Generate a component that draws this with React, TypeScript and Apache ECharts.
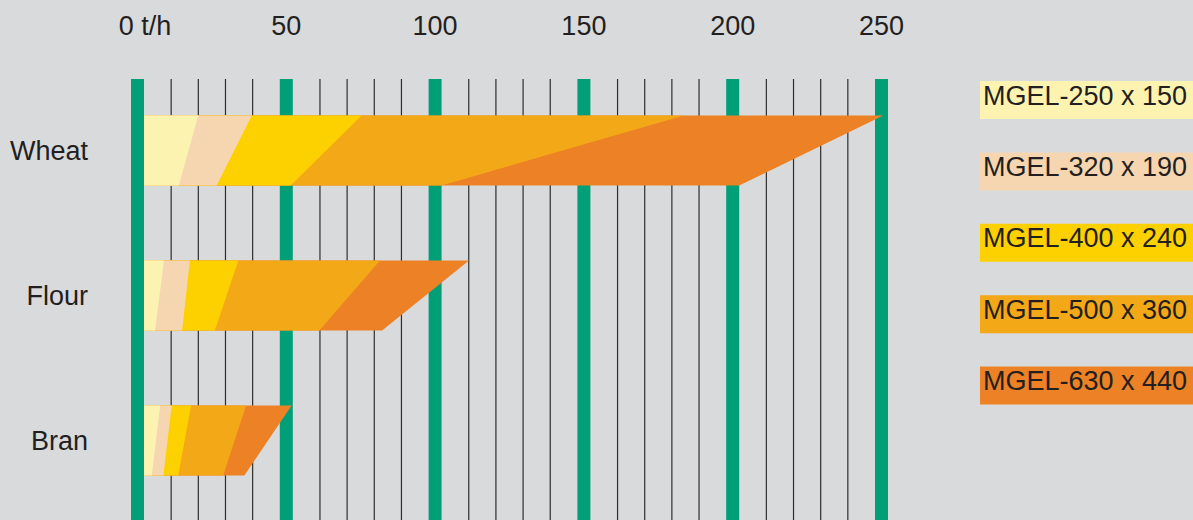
import React, { useEffect, useRef } from 'react';
import * as echarts from 'echarts';

// Categories (rows) and machines (legend)
const categories = ['Wheat', 'Flour', 'Bran'];
const machines = ['MGEL-250 x 150', 'MGEL-320 x 190', 'MGEL-400 x 240', 'MGEL-500 x 360', 'MGEL-630 x 440'];
const machineColors = ['#fdf3b1', '#f6d6b1', '#fdd000', '#f3a817', '#ec8125'];

// Capacity ranges in t/h per category (Wheat, Flour, Bran): min = lower edge, max = upper edge
const mgel250Min = [13.9, 5.9, 4.8];
const mgel250Max = [20.4, 8.9, 7.6];
const mgel320Min = [26.6, 15.0, 8.7];
const mgel320Max = [38.4, 17.6, 11.5];
const mgel400Min = [51.5, 26.0, 13.7];
const mgel400Max = [75.3, 33.9, 18.0];
const mgel500Min = [102.2, 61.1, 28.8];
const mgel500Max = [183.6, 81.5, 36.5];
const mgel630Min = [202.2, 82.2, 35.9];
const mgel630Max = [250.6, 111.4, 51.8];

// Axis ticks
const xTicks = [0, 50, 100, 150, 200, 250];
const firstTickLabel = '0 t/h';

const FONT = '"Liberation Sans", Arial, Helvetica, sans-serif';
const TEXT = '#231f20';
const BG = '#d9dadc';
const GREEN = '#009f77';
const GREEN_W = 13;
const MINOR_DIVISIONS = 5;
const BAND_RATIO = 70 / 145;

export default function App() {
  const ref = useRef<HTMLDivElement>(null);

  useEffect(() => {
    document.body.style.margin = '0';
    document.body.style.background = BG;
    const chart = echarts.init(ref.current!, null, { renderer: 'svg' });

    const ranges = [
      [mgel250Min, mgel250Max],
      [mgel320Min, mgel320Max],
      [mgel400Min, mgel400Max],
      [mgel500Min, mgel500Max],
      [mgel630Min, mgel630Max],
    ];

    const capacitySeries = machines.map((name, i) => ({
      type: 'custom',
      name,
      z: 10 + (machines.length - i),
      encode: { x: [1, 2], y: 0 },
      data: categories.map((c, k) => [c, ranges[i][0][k], ranges[i][1][k]]),
      renderItem: (params: any, api: any) => {
        const cat = api.value(0);
        const lo = api.value(1);
        const hi = api.value(2);
        const origin = api.coord([0, cat]);
        const left = origin[0] + GREEN_W / 2;
        const cy = origin[1];
        const h = api.size([0, 1])[1] * BAND_RATIO;
        const top = cy - h / 2;
        const bottom = cy + h / 2;
        const xTop = api.coord([hi, cat])[0];
        const xBot = api.coord([lo, cat])[0];
        return {
          type: 'polygon',
          shape: { points: [[left, top], [xTop, top], [xBot, bottom], [left, bottom]] },
          style: { fill: machineColors[i] },
        };
      },
    }));

    const gridSeries = {
      type: 'custom',
      name: 'grid',
      z: 1,
      silent: true,
      encode: { x: 0, y: 1 },
      data: [[0, categories[0]]],
      renderItem: (params: any, api: any) => {
        const children: any[] = [];
        const top = params.coordSys.y + 1;
        const bottom = top + params.coordSys.height + 40;
        xTicks.forEach((v, k) => {
          const x = api.coord([v, 0])[0];
          if (k < xTicks.length - 1) {
            const x2 = api.coord([xTicks[k + 1], 0])[0];
            const a = x + GREEN_W / 2;
            const b = x2 - GREEN_W / 2;
            for (let j = 1; j < MINOR_DIVISIONS; j++) {
              const xm = a + ((b - a) * j) / MINOR_DIVISIONS;
              children.push({
                type: 'line',
                shape: { x1: xm, y1: top, x2: xm, y2: bottom },
                style: { stroke: '#2e2e2e', lineWidth: 1.2 },
              });
            }
          }
          children.push({
            type: 'rect',
            shape: { x: x - GREEN_W / 2, y: top, width: GREEN_W, height: bottom - top },
            style: { fill: GREEN },
          });
        });
        return { type: 'group', children };
      },
    };

    const legendGraphics: any[] = [];
    machines.forEach((m, i) => {
      const y = 81 + i * 71.4;
      legendGraphics.push({
        type: 'rect',
        x: 980,
        y,
        shape: { x: 0, y: 0, width: 240, height: 38 },
        style: { fill: machineColors[i] },
      });
      legendGraphics.push({
        type: 'text',
        x: 983,
        y: y + 14.5,
        style: {
          text: m,
          fontSize: 27,
          fontFamily: FONT,
          fill: TEXT,
          verticalAlign: 'middle',
          align: 'left',
        },
      });
    });

    chart.setOption({
      animation: false,
      backgroundColor: BG,
      grid: { left: 137.5, top: 78, width: 744, height: 435, containLabel: false },
      xAxis: {
        type: 'value',
        position: 'top',
        min: 0,
        max: 250,
        interval: 50,
        axisLine: { show: false },
        axisTick: { show: false },
        splitLine: { show: false },
        axisLabel: {
          fontSize: 27,
          fontFamily: FONT,
          color: TEXT,
          margin: 39,
          formatter: (v: number) => (v === xTicks[0] ? '{z|' + firstTickLabel + '}' : String(v)),
          rich: {
            z: { fontSize: 27, fontFamily: FONT, color: TEXT, padding: [0, 0, 0, 15] },
          },
        },
      },
      yAxis: {
        type: 'category',
        data: categories,
        inverse: true,
        axisLine: { show: false },
        axisTick: { show: false },
        splitLine: { show: false },
        axisLabel: {
          fontSize: 27,
          fontFamily: FONT,
          color: TEXT,
          margin: 49.5,
          padding: [0, 0, 5, 0],
        },
      },
      graphic: legendGraphics,
      series: [gridSeries, ...capacitySeries],
    });

    return () => chart.dispose();
  }, []);

  return (
    <div
      ref={ref}
      style={{ position: 'absolute', left: 0, top: 0, width: 1193, height: 520, background: BG }}
    />
  );
}
